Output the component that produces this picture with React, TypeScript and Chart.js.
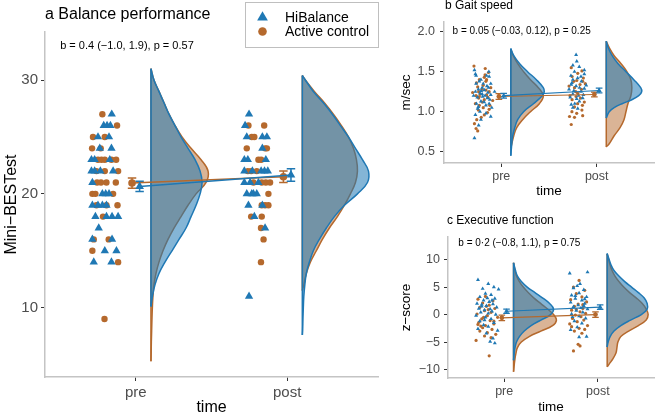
import React, { useEffect, useRef } from 'react';
import { Chart, registerables } from 'chart.js';

Chart.register(...registerables);

const FONT = '"Liberation Sans", Arial, Helvetica, sans-serif';
const BLUE = '#1f78b4';
const ORANGE = '#b5692d';
const BLUE_FILL = 'rgba(31,120,180,0.55)';
const ORANGE_FILL = 'rgba(181,105,45,0.5)';
const TICK_COLOR = '#4d4d4d';
const AXIS_COLOR = '#c4c4c4';

const X_TICKS = [1, 2];
const X_LABELS = ['pre', 'post'];
const X_MIN = 0.4;
const X_MAX = 2.6;
const VIOLIN_OFFSET = 0.1;
const MEAN_DODGE = 0.025;
const GROUP_LABELS = ['HiBalance', 'Active control'];

// ---------------- Panel a: Balance performance (Mini-BESTest) ----------------
const A_Y_TICKS = [10, 20, 30];
const A_PRE_HI_X = [0.841, 0.788, 0.810, 0.832, 0.750, 0.823, 0.762, 0.839, 0.707, 0.728, 0.828, 0.707, 0.728, 0.766, 0.850, 0.713, 0.779, 0.801, 0.823, 0.713, 0.750, 0.779, 0.806, 0.733, 0.806, 0.843, 0.883, 0.755, 0.713, 0.843, 0.795, 0.872, 0.722, 0.839];
const A_PRE_HI_Y = [27, 26, 26, 26, 25, 25, 24, 24, 23, 23, 23, 22, 22, 22, 22, 21, 20, 20, 20, 19, 19, 19, 19, 18, 18, 18, 18, 17, 16, 16, 15, 15, 14, 14];
const A_PRE_AC_X = [0.779, 0.876, 0.717, 0.795, 0.711, 0.768, 0.750, 0.773, 0.795, 0.839, 0.870, 0.740, 0.795, 0.883, 0.744, 0.770, 0.806, 0.868, 0.713, 0.733, 0.850, 0.740, 0.806, 0.879, 0.783, 0.722, 0.821, 0.713, 0.883, 0.793];
const A_PRE_AC_Y = [27, 26, 25, 25, 24, 24, 23, 23, 23, 23, 23, 22, 22, 22, 21, 21, 21, 21, 20, 20, 20, 19, 19, 19, 18, 16, 16, 15, 14, 9];
const A_POST_HI_X = [1.748, 1.722, 1.733, 1.836, 1.866, 1.836, 1.717, 1.740, 1.859, 1.717, 1.770, 1.828, 1.850, 1.872, 1.717, 1.755, 1.810, 1.733, 1.766, 1.777, 1.799, 1.744, 1.836, 1.783, 1.854, 1.748];
const A_POST_HI_Y = [27, 26, 25, 25, 25, 24, 23, 23, 23, 22, 22, 22, 22, 22, 21, 21, 21, 20, 20, 20, 20, 19, 19, 18, 17, 11];
const A_POST_AC_X = [1.744, 1.848, 1.766, 1.783, 1.733, 1.854, 1.866, 1.810, 1.828, 1.740, 1.762, 1.799, 1.777, 1.832, 1.859, 1.887, 1.876, 1.854, 1.832, 1.876, 1.762, 1.832, 1.827, 1.844, 1.827];
const A_POST_AC_Y = [26, 26, 25, 25, 24, 24, 24, 23, 23, 22, 22, 22, 21, 21, 21, 21, 20, 19, 19, 19, 18, 18, 17, 16, 14];
// violin outlines: value levels and density (relative width)
const A_PRE_HI_VY = [31, 30, 29, 28, 27, 26, 25, 24, 23, 22, 21, 20, 19, 18, 17, 16, 15, 14, 13, 12, 11, 10.1];
const A_PRE_HI_VD = [0, 3, 8, 13, 18, 24, 30, 37, 44, 49, 51, 49, 45, 40, 35, 28, 21, 14, 8, 4, 1.5, 0];
const A_PRE_AC_VY = [31, 30, 29, 28, 27, 26, 25, 24, 23, 22, 21, 20, 19, 18, 17, 16, 15, 14, 13, 12, 11, 10, 9, 8, 7, 6, 5.3];
const A_PRE_AC_VD = [0, 3, 8, 13, 18, 24, 31, 40, 50, 57, 55, 45, 37, 30, 23, 17, 12, 8, 5, 3, 2, 1.4, 1, 0.7, 0.4, 0.2, 0];
const A_POST_HI_VY = [30.4, 30, 29, 28, 27, 26, 25, 24, 23, 22, 21, 20, 19, 18, 17, 16, 15, 14, 13, 12, 11, 10, 9, 8, 7.6];
const A_POST_HI_VD = [0, 3, 11, 21, 30, 38, 46, 53, 60, 66, 65, 55, 42, 32, 24, 17, 11, 7, 4, 2.5, 1.5, 1, 0.6, 0.3, 0];
const A_POST_AC_VY = [30.4, 30, 29, 28, 27, 26, 25, 24, 23, 22, 21, 20, 19, 18, 17, 16, 15, 14, 13, 12, 11.5];
const A_POST_AC_VD = [0, 3, 12, 22, 31, 39, 46, 51, 54, 55, 53, 48, 42, 35, 27, 20, 14, 8, 4, 1.5, 0];
const A_HI_MEAN = [20.65, 21.65];
const A_HI_LO = [20.2, 21.1];
const A_HI_HI = [21.1, 22.2];
const A_AC_MEAN = [20.95, 21.5];
const A_AC_LO = [20.5, 21.0];
const A_AC_HI = [21.4, 22.0];

// ---------------- Panel b: Gait speed ----------------
const B_Y_TICKS = [0.5, 1.0, 1.5, 2.0];
const B_PRE_HI_X = [0.719, 0.729, 0.736, 0.846, 0.873, 0.787, 0.736, 0.811, 0.890, 0.866, 0.729, 0.822, 0.777, 0.890, 0.805, 0.856, 0.787, 0.873, 0.839, 0.753, 0.777, 0.729, 0.890, 0.787, 0.763, 0.719, 0.80, 0.76, 0.86, 0.83, 0.75, 0.88, 0.79, 0.85, 0.74, 0.82, 0.90, 0.77, 0.93, 0.71, 0.84, 0.80, 0.87, 0.76];
const B_PRE_HI_Y = [1.52, 1.47, 1.45, 1.45, 1.44, 1.40, 1.35, 1.35, 1.35, 1.30, 1.25, 1.27, 1.23, 1.21, 1.19, 1.17, 1.13, 1.10, 1.08, 1.04, 1.00, 0.96, 0.94, 0.90, 0.83, 0.67, 1.30, 1.28, 1.24, 1.20, 1.18, 1.15, 1.26, 1.32, 1.10, 1.12, 1.05, 1.38, 1.25, 1.20, 0.98, 1.22, 1.50, 1.06];
const B_PRE_AC_X = [0.714, 0.832, 0.866, 0.822, 0.770, 0.846, 0.839, 0.753, 0.798, 0.763, 0.873, 0.846, 0.736, 0.763, 0.822, 0.729, 0.770, 0.811, 0.873, 0.856, 0.822, 0.743, 0.719, 0.736, 0.753, 0.78, 0.86, 0.81, 0.74, 0.89, 0.80, 0.76, 0.84, 0.70, 0.91, 0.79, 0.83, 0.77, 0.88];
const B_PRE_AC_Y = [1.57, 1.54, 1.49, 1.43, 1.40, 1.40, 1.38, 1.31, 1.28, 1.25, 1.25, 1.21, 1.20, 1.17, 1.15, 1.10, 1.08, 1.05, 1.03, 0.99, 0.96, 0.90, 0.85, 0.79, 0.76, 1.22, 1.18, 1.33, 1.36, 1.30, 1.12, 1.02, 1.27, 1.24, 1.14, 0.93, 1.46, 1.19, 1.08];
const B_POST_HI_X = [1.784, 1.791, 1.750, 1.817, 1.767, 1.870, 1.835, 1.750, 1.733, 1.784, 1.870, 1.835, 1.750, 1.722, 1.853, 1.818, 1.733, 1.801, 1.76, 1.82, 1.74, 1.86, 1.79, 1.71, 1.84, 1.77, 1.89, 1.73, 1.81, 1.75, 1.87, 1.80];
const B_POST_HI_Y = [1.71, 1.63, 1.58, 1.56, 1.50, 1.47, 1.44, 1.40, 1.34, 1.32, 1.29, 1.25, 1.22, 1.18, 1.17, 1.13, 1.09, 1.04, 1.26, 1.30, 1.36, 1.21, 1.16, 1.28, 1.38, 1.10, 1.33, 1.45, 1.20, 1.05, 1.52, 1.42];
const B_POST_AC_X = [1.733, 1.845, 1.801, 1.742, 1.791, 1.853, 1.825, 1.767, 1.801, 1.784, 1.742, 1.870, 1.767, 1.845, 1.715, 1.767, 1.853, 1.733, 1.78, 1.84, 1.72, 1.80, 1.88, 1.76, 1.83, 1.74, 1.86, 1.79, 1.71, 1.85];
const B_POST_AC_Y = [1.55, 1.51, 1.48, 1.44, 1.39, 1.38, 1.34, 1.30, 1.23, 1.19, 1.15, 1.12, 1.06, 1.02, 0.94, 0.93, 0.95, 0.84, 1.25, 1.28, 1.20, 1.10, 1.35, 1.38, 1.17, 1.00, 1.42, 0.98, 1.32, 1.08];
const B_PRE_HI_VY = [1.79, 1.7, 1.6, 1.5, 1.4, 1.3, 1.25, 1.2, 1.1, 1.0, 0.9, 0.8, 0.7, 0.6, 0.45];
const B_PRE_HI_VD = [0, 3, 9, 17, 26, 33, 34, 32, 23, 13, 7, 4, 2, 1, 0];
const B_PRE_AC_VY = [1.78, 1.7, 1.6, 1.5, 1.4, 1.3, 1.2, 1.1, 1.0, 0.9, 0.8, 0.7, 0.6, 0.55];
const B_PRE_AC_VD = [0, 2.5, 7, 13, 20, 28, 33, 29, 20, 12, 6, 3, 1, 0];
const B_POST_HI_VY = [1.88, 1.8, 1.7, 1.6, 1.5, 1.4, 1.3, 1.25, 1.2, 1.15, 1.1, 1.05, 1.0, 0.95, 0.92];
const B_POST_HI_VD = [0, 2, 6, 12, 20, 28, 35, 36, 33, 26, 16, 8, 3, 1, 0];
const B_POST_AC_VY = [1.88, 1.8, 1.7, 1.6, 1.5, 1.4, 1.3, 1.2, 1.1, 1.0, 0.9, 0.8, 0.7, 0.6, 0.56];
const B_POST_AC_VD = [0, 3, 8, 15, 21, 25, 26, 25, 22, 20, 18, 14, 8, 3, 0];
const B_HI_MEAN = [1.20, 1.265];
const B_HI_LO = [1.17, 1.235];
const B_HI_HI = [1.23, 1.295];
const B_AC_MEAN = [1.19, 1.215];
const B_AC_LO = [1.155, 1.185];
const B_AC_HI = [1.225, 1.245];

// ---------------- Panel c: Executive function ----------------
const C_Y_TICKS = [-10, -5, 0, 5, 10];
const C_PRE_HI_X = [0.72, 0.83, 0.89, 0.77, 0.94, 0.80, 0.86, 0.74, 0.90, 0.78, 0.84, 0.71, 0.88, 0.81, 0.76, 0.92, 0.73, 0.85, 0.79, 0.87, 0.75, 0.83, 0.91, 0.70, 0.80, 0.86, 0.74, 0.89, 0.78, 0.83, 0.72, 0.93, 0.81, 0.88, 0.85, 0.90, 0.76, 0.82, 0.79, 0.87];
const C_PRE_HI_Y = [6.3, 5.6, 5.0, 4.7, 4.6, 3.8, 3.6, 3.2, 2.9, 2.6, 2.3, 2.0, 1.9, 1.6, 1.5, 1.3, 1.1, 1.0, 0.8, 0.6, 0.4, 0.2, 0.0, -0.2, -0.5, -0.8, -1.2, -1.5, -1.9, -2.2, -2.6, -2.9, -3.4, -4.3, -4.9, -5.2, 1.8, 3.0, -1.0, 2.6];
const C_PRE_AC_X = [0.80, 0.72, 0.88, 0.77, 0.84, 0.74, 0.90, 0.79, 0.86, 0.71, 0.82, 0.93, 0.76, 0.85, 0.73, 0.89, 0.80, 0.77, 0.87, 0.74, 0.82, 0.91, 0.79, 0.70, 0.86, 0.84, 0.78, 0.83, 0.75, 0.89, 0.81, 0.72];
const C_PRE_AC_Y = [3.3, 2.8, 2.5, 2.1, 1.7, 1.3, 1.1, 0.7, 0.4, 0.1, -0.2, -0.5, -0.8, -1.1, -1.4, -1.7, -2.0, -2.4, -2.7, -3.0, -3.3, -3.6, -3.9, -4.7, -4.2, -7.5, -0.5, 0.9, -2.1, -1.2, 1.5, -1.8];
const C_POST_HI_X = [1.70, 1.89, 1.78, 1.74, 1.85, 1.80, 1.72, 1.88, 1.76, 1.83, 1.71, 1.86, 1.79, 1.74, 1.82, 1.89, 1.77, 1.84, 1.72, 1.80, 1.87, 1.75, 1.83, 1.78, 1.71, 1.88, 1.80, 1.76, 1.85, 1.81, 1.73, 1.86];
const C_POST_HI_Y = [7.5, 7.7, 5.2, 4.8, 4.5, 3.9, 3.5, 3.2, 2.9, 2.6, 2.2, 2.0, 1.7, 1.4, 1.2, 1.0, 0.7, 0.4, 0.1, -0.3, -0.7, -1.2, -1.6, -2.3, -2.8, -4.0, -4.1, 3.4, 1.6, 5.6, -0.4, 2.8];
const C_POST_AC_X = [1.80, 1.74, 1.86, 1.77, 1.83, 1.71, 1.88, 1.79, 1.75, 1.84, 1.72, 1.81, 1.87, 1.76, 1.82, 1.73, 1.85, 1.78, 1.70, 1.89, 1.80, 1.75, 1.83, 1.79, 1.81, 1.74, 1.86, 1.77, 1.72, 1.84];
const C_POST_AC_Y = [6.2, 5.0, 4.4, 3.8, 3.2, 2.7, 2.3, 1.9, 1.5, 1.1, 0.8, 0.5, 0.2, -0.1, -0.4, -0.7, -1.0, -1.3, -1.7, -2.0, -2.5, -3.0, -3.4, -5.4, -5.7, -6.6, -2.7, 0.9, -2.2, 1.8];
const C_PRE_HI_VY = [9.4, 8, 7, 6, 5, 4, 3, 2, 1, 0, -1, -2, -3, -4, -5, -6, -7, -8.3];
const C_PRE_HI_VD = [0, 2, 4, 8, 14, 22, 30, 37, 41, 38, 28, 18, 11, 6, 3, 1.5, 0.7, 0];
const C_PRE_AC_VY = [9.4, 8, 7, 6, 5, 4, 3, 2, 1, 0, -1, -2, -3, -4, -5, -6, -7, -8, -9, -10.4];
const C_PRE_AC_VD = [0, 1.5, 3, 6, 10, 15, 21, 28, 35, 41, 44, 40, 28, 16, 8, 4, 2.5, 1.5, 0.8, 0];
const C_POST_HI_VY = [11.1, 10, 9, 8, 7, 6, 5, 4, 3, 2, 1, 0, -1, -2, -3, -4, -5, -5.9];
const C_POST_HI_VD = [0, 2, 4, 7, 12, 18, 25, 32, 38, 41, 41, 35, 24, 14, 7, 3, 1, 0];
const C_POST_AC_VY = [11, 10, 9, 8, 7, 6, 5, 4, 3, 2, 1, 0, -1, -2, -3, -4, -5, -6, -7, -8, -9, -9.5];
const C_POST_AC_VD = [0, 1.5, 3, 5, 8, 12, 17, 23, 30, 36, 40, 42, 40, 32, 22, 14, 11, 10, 9, 6, 2, 0];
const C_HI_MEAN = [0.6, 1.35];
const C_HI_LO = [0.2, 0.95];
const C_HI_HI = [1.0, 1.75];
const C_AC_MEAN = [-0.6, 0.0];
const C_AC_LO = [-1.1, -0.5];
const C_AC_HI = [-0.1, 0.5];

// ---------------- helpers ----------------
type P = { x: number; y: number | null };
const xy = (xs: number[], ys: number[]): P[] => xs.map((x, i) => ({ x, y: ys[i] }));
const violinPts = (base: number, vy: number[], vd: number[], k: number): P[] =>
  vy.map((y, i) => ({ x: base + vd[i] * k, y }));

interface Series {
  preX: number[]; preY: number[]; postX: number[]; postY: number[];
  preVY: number[]; preVD: number[]; postVY: number[]; postVD: number[];
  mean: number[]; lo: number[]; hi: number[];
}

function errorBarPts(xs: number[], lo: number[], hi: number[], cap: number): P[] {
  const pts: P[] = [];
  xs.forEach((x, i) => {
    pts.push({ x: x - cap, y: hi[i] }, { x: x + cap, y: hi[i] }, { x, y: null });
    pts.push({ x, y: hi[i] }, { x, y: lo[i] }, { x, y: null });
    pts.push({ x: x - cap, y: lo[i] }, { x: x + cap, y: lo[i] }, { x, y: null });
  });
  return pts;
}

function buildDatasets(spec: any) {
  const g = spec.g;
  const ds: any[] = [];
  const groups = [
    { s: spec.ac as Series, color: ORANGE, fill: ORANGE_FILL, style: 'circle', r: g.circR, mr: g.meanCircR, dodge: -MEAN_DODGE, base: 0 },
    { s: spec.hi as Series, color: BLUE, fill: BLUE_FILL, style: 'triangle', r: g.triR, mr: g.meanTriR, dodge: MEAN_DODGE, base: 1 },
  ];
  groups.forEach((gr, gi) => {
    const s = gr.s;
    const parts: [number, number[], number[]][] = [
      [X_TICKS[0], s.preVY, s.preVD],
      [X_TICKS[1], s.postVY, s.postVD],
    ];
    parts.forEach(([t, vy, vd]) => {
      const base = t + VIOLIN_OFFSET;
      ds.push({
        data: violinPts(base, vy, vd, g.k),
        showLine: true, fill: 'shape', backgroundColor: gr.fill, borderColor: gr.color,
        borderWidth: g.violinW, tension: 0.4, pointRadius: 0, order: 20 - gi * 2,
      });
      ds.push({
        data: [{ x: base, y: vy[0] }, { x: base, y: vy[vy.length - 1] }],
        showLine: true, fill: false, borderColor: gr.color, borderWidth: g.violinW,
        pointRadius: 0, order: 19 - gi * 2,
      });
    });
    ds.push({
      data: [...xy(s.preX, s.preY), ...xy(s.postX, s.postY)],
      pointStyle: gr.style, pointRadius: gr.r, pointBackgroundColor: gr.color,
      pointBorderWidth: 0, backgroundColor: gr.color, order: 10 - gi,
    });
    const mx = X_TICKS.map((t) => t + gr.dodge);
    ds.push({
      data: errorBarPts(mx, s.lo, s.hi, g.cap),
      showLine: true, spanGaps: false, fill: false, borderColor: gr.color, borderWidth: g.lineW,
      pointRadius: 0, order: 4 - gi,
    });
    ds.push({
      data: xy(mx, s.mean),
      showLine: true, fill: false, borderColor: gr.color, borderWidth: g.lineW,
      pointStyle: gr.style, pointRadius: gr.mr, pointBackgroundColor: gr.color,
      pointBorderWidth: 0, order: 2 - gi,
    });
  });
  return ds;
}

function textPlugin(spec: any) {
  const g = spec.g;
  return {
    id: 'panelText',
    afterDraw(chart: any) {
      const { ctx, chartArea, scales } = chart;
      ctx.save();
      ctx.fillStyle = '#000';
      ctx.textAlign = 'left';
      ctx.textBaseline = 'alphabetic';
      ctx.font = `${g.titleSize}px ${FONT}`;
      ctx.fillText(spec.title, chartArea.left + g.titleDx, g.titleBaseline);
      ctx.font = `${g.noteSize}px ${FONT}`;
      ctx.textBaseline = 'middle';
      ctx.fillText(spec.note, scales.x.getPixelForValue(spec.noteX), scales.y.getPixelForValue(spec.noteY));
      if (spec.legend) {
        const L = spec.legend;
        ctx.strokeStyle = '#bfbfbf';
        ctx.lineWidth = 1;
        ctx.strokeRect(L.x + 0.5, L.y + 0.5, L.w, L.h);
        // triangle marker
        const tx = L.x + 17.5, ty = L.y + 15.5, r = 6.2;
        ctx.fillStyle = BLUE;
        ctx.beginPath();
        ctx.moveTo(tx, ty - r);
        ctx.lineTo(tx + r * 0.866, ty + r * 0.5);
        ctx.lineTo(tx - r * 0.866, ty + r * 0.5);
        ctx.closePath();
        ctx.fill();
        ctx.fillStyle = ORANGE;
        ctx.beginPath();
        ctx.arc(tx, L.y + 29.5, 4.3, 0, Math.PI * 2);
        ctx.fill();
        ctx.fillStyle = '#000';
        ctx.font = `14px ${FONT}`;
        ctx.textBaseline = 'middle';
        ctx.fillText(GROUP_LABELS[0], L.x + 40, L.y + 16);
        ctx.fillText(GROUP_LABELS[1], L.x + 40, L.y + 30);
      }
      ctx.restore();
    },
  };
}

function makeConfig(spec: any): any {
  const g = spec.g;
  const ticks = spec.yTicks as number[];
  return {
    type: 'scatter',
    data: { datasets: buildDatasets(spec) },
    options: {
      responsive: false,
      animation: false,
      events: [],
      layout: { padding: { top: g.padTop, right: g.padRight, left: 0, bottom: 0 } },
      plugins: { legend: { display: false }, tooltip: { enabled: false }, title: { display: false } },
      scales: {
        x: {
          type: 'linear', position: 'bottom', min: X_MIN, max: X_MAX,
          afterBuildTicks: (s: any) => { s.ticks = X_TICKS.map((v) => ({ value: v })); },
          afterFit: (s: any) => { s.height = g.xAxisH; },
          ticks: {
            callback: (_v: any, i: number) => X_LABELS[i],
            color: TICK_COLOR, font: { family: FONT, size: g.tickSize },
            padding: g.xTickPad, maxRotation: 0, autoSkip: false,
          },
          grid: { display: true, drawOnChartArea: false, drawTicks: true, tickLength: g.tickLen, tickColor: '#333333', tickWidth: 1 },
          border: { display: true, color: AXIS_COLOR, width: g.axisW },
          title: { display: true, text: 'time', color: '#000', font: { family: FONT, size: g.axisTitleSize }, padding: { top: 0, bottom: g.xTitlePad } },
        },
        y: {
          type: 'linear', position: 'left', min: spec.yMin, max: spec.yMax,
          afterBuildTicks: (s: any) => { s.ticks = ticks.map((v) => ({ value: v })); },
          afterFit: (s: any) => { s.width = g.yAxisW; },
          ticks: {
            callback: (_v: any, i: number) => spec.yFmt(ticks[i]),
            color: TICK_COLOR, font: { family: FONT, size: g.tickSize },
            padding: g.yTickPad, autoSkip: false,
          },
          grid: { display: true, drawOnChartArea: false, drawTicks: true, tickLength: g.tickLen, tickColor: '#333333', tickWidth: 1 },
          border: { display: true, color: AXIS_COLOR, width: g.axisW },
          title: { display: true, text: spec.yTitle, color: '#000', font: { family: FONT, size: g.axisTitleSize }, padding: { top: g.yTitlePad, bottom: 0 } },
        },
      },
    },
    plugins: [textPlugin(spec)],
  };
}

const fmtMinus = (v: number) => (v < 0 ? '\u2212' + Math.abs(v) : String(v));

const SPEC_A = {
  title: 'a Balance performance',
  note: 'b = 0.4 (\u22121.0, 1.9), p = 0.57', noteX: 0.5, noteY: 33.0,
  yTitle: 'Mini\u2212BESTest', yMin: 3.91, yMax: 34.22, yTicks: A_Y_TICKS, yFmt: (v: number) => String(v),
  legend: { x: 245, y: 2, w: 133, h: 45 },
  hi: { preX: A_PRE_HI_X, preY: A_PRE_HI_Y, postX: A_POST_HI_X, postY: A_POST_HI_Y, preVY: A_PRE_HI_VY, preVD: A_PRE_HI_VD, postVY: A_POST_HI_VY, postVD: A_POST_HI_VD, mean: A_HI_MEAN, lo: A_HI_LO, hi: A_HI_HI },
  ac: { preX: A_PRE_AC_X, preY: A_PRE_AC_Y, postX: A_POST_AC_X, postY: A_POST_AC_Y, preVY: A_PRE_AC_VY, preVD: A_PRE_AC_VD, postVY: A_POST_AC_VY, postVD: A_POST_AC_VD, mean: A_AC_MEAN, lo: A_AC_LO, hi: A_AC_HI },
  g: { left: 0, top: 0, w: 390, h: 416, padTop: 32, padRight: 12, yAxisW: 45, xAxisH: 39, tickSize: 15, xTickPad: 3, yTickPad: 3, tickLen: 4, axisTitleSize: 16, yTitlePad: 2, xTitlePad: -1, axisW: 1.5, titleSize: 16, titleDx: 0, titleBaseline: 19, noteSize: 11, triR: 4.8, circR: 3.2, meanTriR: 5, meanCircR: 3.8, lineW: 1.5, violinW: 1.5, cap: 0.028, k: 1 / 151 },
};

const SPEC_B = {
  title: 'b Gait speed',
  note: 'b = 0.05 (\u22120.03, 0.12), p = 0.25', noteX: 0.49, noteY: 2.0,
  yTitle: 'm/sec', yMin: 0.359, yMax: 2.121, yTicks: B_Y_TICKS, yFmt: (v: number) => v.toFixed(1),
  hi: { preX: B_PRE_HI_X, preY: B_PRE_HI_Y, postX: B_POST_HI_X, postY: B_POST_HI_Y, preVY: B_PRE_HI_VY, preVD: B_PRE_HI_VD, postVY: B_POST_HI_VY, postVD: B_POST_HI_VD, mean: B_HI_MEAN, lo: B_HI_LO, hi: B_HI_HI },
  ac: { preX: B_PRE_AC_X, preY: B_PRE_AC_Y, postX: B_POST_AC_X, postY: B_POST_AC_Y, preVY: B_PRE_AC_VY, preVD: B_PRE_AC_VD, postVY: B_POST_AC_VY, postVD: B_POST_AC_VD, mean: B_AC_MEAN, lo: B_AC_LO, hi: B_AC_HI },
  g: { left: 390, top: 0, w: 268, h: 200, padTop: 22, padRight: 0, yAxisW: 54, xAxisH: 37, tickSize: 12.5, xTickPad: 2, yTickPad: 5, tickLen: 4, axisTitleSize: 13.5, yTitlePad: 8, xTitlePad: 1, axisW: 1.5, titleSize: 12, titleDx: 1, titleBaseline: 9, noteSize: 10, triR: 2.3, circR: 1.6, meanTriR: 3, meanCircR: 2.4, lineW: 1.2, violinW: 1.5, cap: 0.035, k: 1 / 97 },
};

const SPEC_C = {
  title: 'c Executive function',
  note: 'b = 0\u00b72 (\u22120.8, 1.1), p = 0.75', noteX: 0.51, noteY: 13.0,
  yTitle: 'z\u2212score', yMin: -11.53, yMax: 14.1, yTicks: C_Y_TICKS, yFmt: fmtMinus,
  hi: { preX: C_PRE_HI_X, preY: C_PRE_HI_Y, postX: C_POST_HI_X, postY: C_POST_HI_Y, preVY: C_PRE_HI_VY, preVD: C_PRE_HI_VD, postVY: C_POST_HI_VY, postVD: C_POST_HI_VD, mean: C_HI_MEAN, lo: C_HI_LO, hi: C_HI_HI },
  ac: { preX: C_PRE_AC_X, preY: C_PRE_AC_Y, postX: C_POST_AC_X, postY: C_POST_AC_Y, preVY: C_PRE_AC_VY, preVD: C_PRE_AC_VD, postVY: C_POST_AC_VY, postVD: C_POST_AC_VD, mean: C_AC_MEAN, lo: C_AC_LO, hi: C_AC_HI },
  g: { left: 390, top: 208, w: 268, h: 208, padTop: 29, padRight: 0, yAxisW: 58, xAxisH: 38, tickSize: 12.5, xTickPad: 2, yTickPad: 4, tickLen: 4, axisTitleSize: 13.5, yTitlePad: 8, xTitlePad: 1, axisW: 1.5, titleSize: 12, titleDx: -1, titleBaseline: 16, noteSize: 10, triR: 2.3, circR: 1.6, meanTriR: 3, meanCircR: 2.4, lineW: 1.2, violinW: 1.5, cap: 0.035, k: 1 / 96 },
};

function Panel({ spec }: { spec: any }) {
  const ref = useRef<HTMLCanvasElement>(null);
  useEffect(() => {
    const chart = new Chart(ref.current as HTMLCanvasElement, makeConfig(spec));
    return () => chart.destroy();
  }, [spec]);
  const g = spec.g;
  return (
    <div style={{ position: 'absolute', left: g.left, top: g.top, width: g.w, height: g.h }}>
      <canvas ref={ref} width={g.w} height={g.h} style={{ width: g.w, height: g.h, display: 'block' }} />
    </div>
  );
}

export default function App() {
  return (
    <div style={{ position: 'fixed', left: 0, top: 0, width: 658, height: 416, background: '#fff', overflow: 'hidden' }}>
      <Panel spec={SPEC_A} />
      <Panel spec={SPEC_B} />
      <Panel spec={SPEC_C} />
    </div>
  );
}
